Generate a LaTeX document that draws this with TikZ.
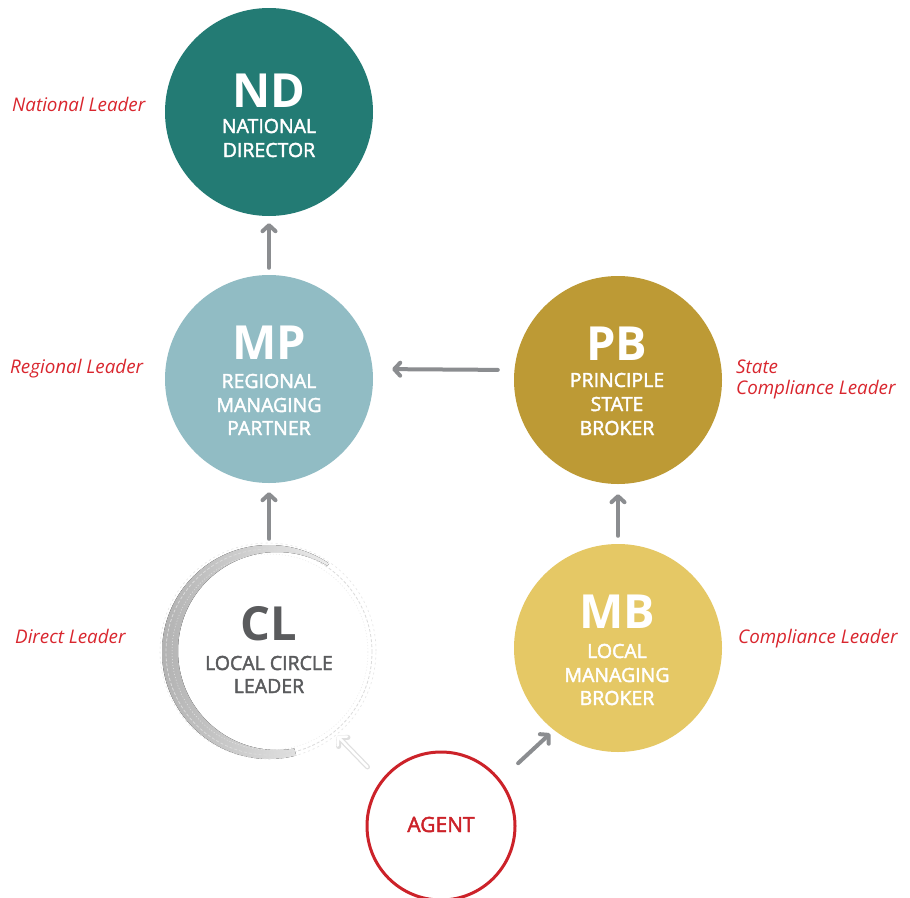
\documentclass[tikz,border=0pt]{standalone}
\usepackage{fontspec}
\setmainfont{Open Sans}
\newfontfamily\medfont{Open Sans}[FakeBold=2.2]
\usetikzlibrary{arrows.meta,calc}
\definecolor{ndc}{HTML}{237B74}
\definecolor{mpc}{HTML}{91BCC4}
\definecolor{pbc}{HTML}{BD9A35}
\definecolor{mbc}{HTML}{E5C865}
\definecolor{lab}{HTML}{D9262E}
\definecolor{agc}{HTML}{CC2229}
\definecolor{arr}{HTML}{8B8D90}
\definecolor{clt}{HTML}{5A5B5D}
\begin{document}
\begin{tikzpicture}[x=1pt,y=-1pt,
 bubble/.style={circle,minimum size=208pt,inner sep=0pt,draw=none},
 big/.style={anchor=base,text=white,font=\fontsize{47}{47}\selectfont\bfseries,inner sep=0pt},
 sub/.style={anchor=base,text=white,font=\fontsize{19.5}{19.5}\medfont,inner sep=0pt},
 lbl/.style={anchor=base west,text=lab,font=\fontsize{18.8}{18.8}\selectfont\itshape,inner sep=0pt},
 flow/.style={draw=arr,line width=4pt,line cap=round,-{Straight Barb[length=6pt,width=13pt,line cap=round,line join=round]}},
]
\fill[white] (0,0) rectangle (910,897);
\useasboundingbox (0,0) rectangle (910,897);

% circles
\node[bubble,fill=ndc] (ND) at (269,112) {};
\node[bubble,fill=mpc] (MP) at (269,379) {};
\node[bubble,fill=pbc] (PB) at (618,380) {};
\node[bubble,fill=mbc] (MB) at (618,648) {};
\node[bubble] (CL) at (269,652) {};
\node[circle,minimum size=148pt,inner sep=0pt,draw=agc,line width=3pt] (AG) at (441,826) {};

% CL brush ring
\begin{scope}
\clip (150,540) -- (345,540) -- (269,652) -- (300,770) -- (150,770) -- cycle;
\fill[left color=gray!60,right color=gray!3,even odd rule] (269,652) circle (107pt) (277,651) circle (99pt);
\end{scope}
\draw[gray!28,line width=0.8pt,dash pattern=on 3pt off 2pt] (269,652) circle (103pt);
\draw[gray!20,line width=0.6pt,dash pattern=on 2pt off 3pt] (268,651) circle (108pt);
\draw[gray!18,line width=0.5pt,dash pattern=on 1pt off 2pt] (270,652) circle (98pt);

% texts
\node[big] (NDa) at (269,107) {ND};
\node[sub] (NDb) at (269,133) {NATIONAL};
\node[sub] (NDc) at (269,157) {DIRECTOR};

\node[big] (MPa) at (269,359) {MP};
\node[sub] (MPb) at (269,388) {REGIONAL};
\node[sub] (MPc) at (269,412) {MANAGING};
\node[sub] (MPd) at (269,435) {PARTNER};

\node[big] (PBa) at (617,360) {PB};
\node[sub] (PBb) at (617,387) {PRINCIPLE};
\node[sub] (PBc) at (617,411) {STATE};
\node[sub] (PBd) at (617,435) {BROKER};

\node[big] (MBa) at (617,628) {MB};
\node[sub] (MBb) at (617,658) {LOCAL};
\node[sub] (MBc) at (617,682) {MANAGING};
\node[sub] (MBd) at (617,705) {BROKER};

\node[big,text=clt] (CLa) at (269,640) {CL};
\node[sub,text=clt] (CLb) at (269,670) {LOCAL CIRCLE};
\node[sub,text=clt] (CLc) at (269,693) {LEADER};

\node[sub,text=agc,font=\fontsize{21}{21}\medfont] (AGa) at (441,832) {AGENT};

% labels
\node[lbl] (L1) at (12,111) {National Leader};
\node[lbl] (L2) at (10,373) {Regional Leader};
\node[lbl] (L3) at (15,643) {Direct Leader};
\node[lbl] (L4) at (736,373) {State};
\node[lbl] (L5) at (736,394) {Compliance Leader};
\node[lbl] (L6) at (738,643) {Compliance Leader};

% arrows
\draw[flow,shorten <=7pt,shorten >=7pt] (MP.north) -- (ND.south);
\draw[flow,shorten <=16pt,shorten >=19pt] ([yshift=10pt]PB.west) -- ([yshift=10pt]MP.east);
\draw[flow,shorten <=9pt,shorten >=9pt] (CL.north) -- (MP.south);
\draw[flow,shorten <=8pt,shorten >=10pt] (MB.north) -- (PB.south);
\draw[flow,shorten <=24pt,shorten >=5pt] (AG.38) -- (MB.232);
\draw[draw=gray!25,line width=5pt,line cap=round,shorten <=19pt,shorten >=4pt,-{Straight Barb[length=6pt,width=13pt,line cap=round,line join=round]}] (AG.143) -- (CL.309);
\draw[draw=white,line width=2.5pt,line cap=round,shorten <=19pt,shorten >=4pt,-{Straight Barb[length=6pt,width=13pt,line cap=round,line join=round]}] (AG.143) -- (CL.309);
\end{tikzpicture}
\end{document}
